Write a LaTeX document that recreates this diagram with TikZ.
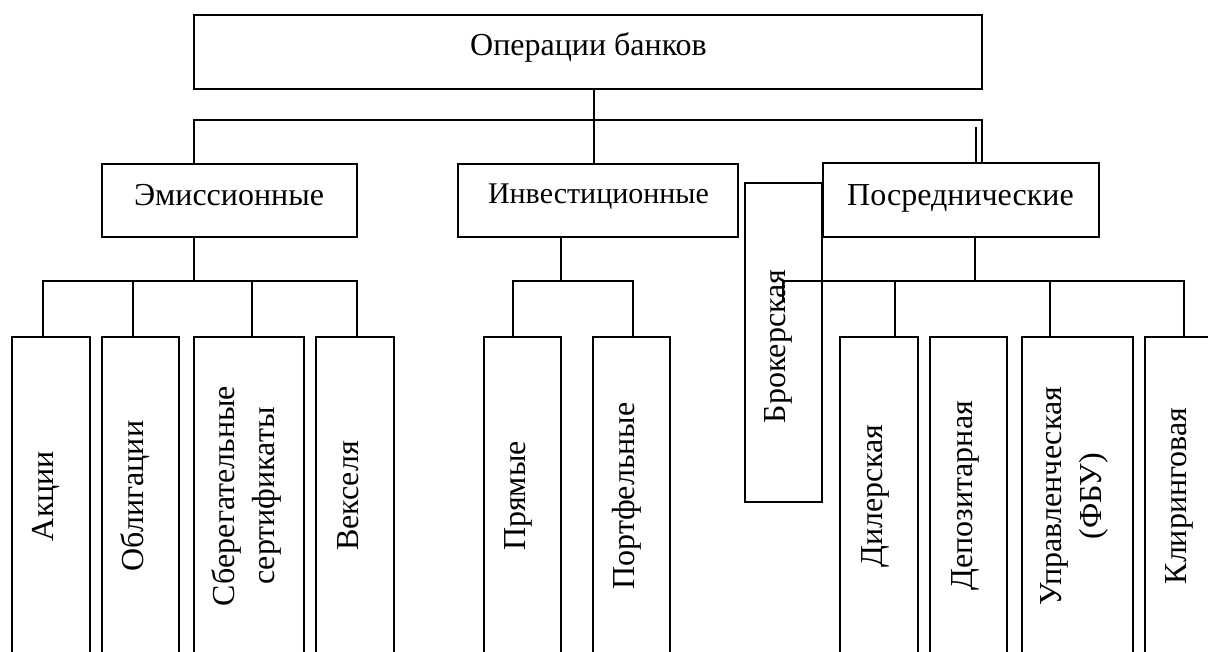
\documentclass[tikz,border=0pt]{standalone}
\usepackage{fontspec}
\setmainfont{Liberation Serif}
\begin{document}
\begin{tikzpicture}[x=1pt,y=-1pt,
  box/.style={draw, line width=1.5pt, inner sep=0pt, outer sep=0pt, anchor=north west},
  conn/.style={line width=1.5pt},
  lbl/.style={inner sep=0pt, font=\fontsize{32}{40}\selectfont},
  vlbl/.style={lbl, rotate=90, anchor=base},
  vlbl2/.style={lbl, rotate=90, align=center, anchor=center}]
\useasboundingbox (0,0) rectangle (1208,651);
\clip (0,0) rectangle (1208,651);
\fill[white] (0,0) rectangle (1208,651);

% level 0
\node[box, minimum width=788pt, minimum height=74pt] (top) at (194,15) {};
\node[lbl, anchor=base] (ttop) at (588.5,55) {Операции банков};

% level 1
\node[box, minimum width=255pt, minimum height=73pt] (emi) at (102,164) {};
\node[lbl, anchor=base] (temi) at (229,205) {Эмиссионные};
\node[box, minimum width=280pt, minimum height=73pt] (inv) at (458,164) {};
\node[lbl, anchor=base, font=\fontsize{30}{36}\selectfont] (tinv) at (598.5,203) {Инвестиционные};
\node[box, minimum width=276pt, minimum height=74pt] (pos) at (823,163) {};
\node[lbl, anchor=base] (tpos) at (960.5,205) {Посреднические};

% brokerage
\node[box, minimum width=77pt, minimum height=319pt] (bro) at (745,183) {};
\node[vlbl] (tbro) at (785,346.5) {Брокерская};

% level 2 emission
\node[box, minimum width=78pt, minimum height=320pt] (akc) at (12,337) {};
\node[vlbl] (takc) at (53,496) {Акции};
\node[box, minimum width=77pt, minimum height=320pt] (obl) at (102,337) {};
\node[vlbl] (tobl) at (143,496) {Облигации};
\node[box, minimum width=110pt, minimum height=320pt] (sber) at (194,337) {};
\node[vlbl2] (tsber) at (246.5,496) {Сберегательные\\сертификаты};
\node[box, minimum width=78pt, minimum height=320pt] (veks) at (316,337) {};
\node[vlbl] (tveks) at (358,496) {Векселя};

% level 2 investment
\node[box, minimum width=77pt, minimum height=320pt] (pr) at (484,337) {};
\node[vlbl] (tpr) at (525,496) {Прямые};
\node[box, minimum width=77pt, minimum height=320pt] (port) at (593,337) {};
\node[vlbl] (tport) at (634,496) {Портфельные};

% level 2 intermediary
\node[box, minimum width=78pt, minimum height=320pt] (dil) at (840,337) {};
\node[vlbl] (tdil) at (882,496) {Дилерская};
\node[box, minimum width=77pt, minimum height=320pt] (dep) at (930,337) {};
\node[vlbl] (tdep) at (972,496) {Депозитарная};
\node[box, minimum width=111pt, minimum height=320pt] (upr) at (1022,337) {};
\node[vlbl2] (tupr) at (1074.5,496) {Управленческая\\(ФБУ)};
\node[box, minimum width=78pt, minimum height=320pt] (klir) at (1145,337) {};
\node[vlbl] (tklir) at (1186,496) {Клиринговая};

% connectors level 0 -> 1
\coordinate (bus0) at (594,120);
\draw[conn] (top.south -| bus0) -- (bus0);
\draw[conn] (emi.north -| 194,0) -- (194,120) -- (982,120) -- (pos.north -| 982,0);
\draw[conn] (bus0) -- (inv.north -| bus0);
\coordinate (dbl) at (976,127);
\draw[conn] (dbl) -- (pos.north -| dbl);

% emission bus
\draw[conn] (emi.south -| 194,0) -- (194,281);
\draw[conn] (akc.north -| 43,0) -- (43,281) -- (357,281) -- (veks.north -| 357,0);
\draw[conn] (obl.north -| 133,0) -- (133,281);
\draw[conn] (sber.north -| 252,0) -- (252,281);

% investment bus
\draw[conn] (inv.south -| 561,0) -- (561,281);
\draw[conn] (pr.north -| 513,0) -- (513,281) -- (633,281) -- (port.north -| 633,0);

% intermediary bus
\coordinate (stub) at (783,301);
\draw[conn] (pos.south -| 975,0) -- (975,281);
\draw[conn] (stub) -- (783,281) -- (1184,281) -- (klir.north -| 1184,0);
\draw[conn] (dil.north -| 895,0) -- (895,281);
\draw[conn] (upr.north -| 1050,0) -- (1050,281);
\end{tikzpicture}
\end{document}
